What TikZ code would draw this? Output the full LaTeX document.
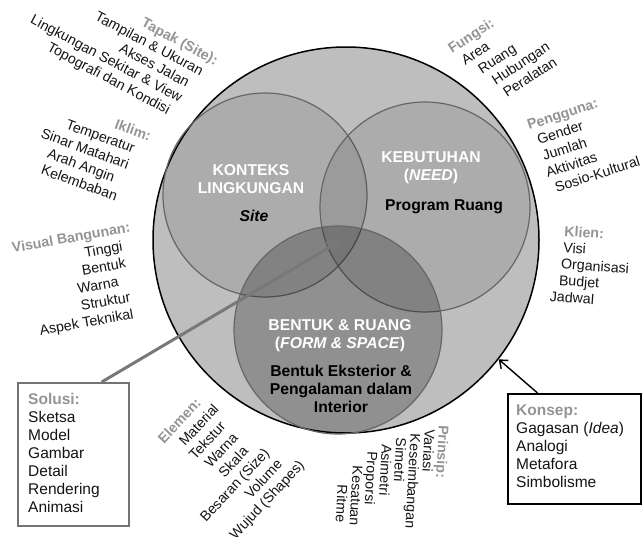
\documentclass[tikz,border=0pt]{standalone}
\usepackage{fontspec}
\setmainfont{Liberation Sans}
\usetikzlibrary{arrows.meta,calc}
\definecolor{ringfill}{gray}{0.745}
\definecolor{ringline}{gray}{0.40}
\definecolor{headgray}{gray}{0.58}
\definecolor{boxgray}{gray}{0.45}
\definecolor{arrowgray}{gray}{0.47}
\definecolor{inkblack}{gray}{0.08}
\tikzset{
  venn/.style={circle, draw=ringline, line width=1.2pt, fill=black,
    fill opacity=0.095, draw opacity=1, inner sep=0pt},
  lbl/.style={font=\fontsize{14.2}{17}\selectfont, text=inkblack, inner sep=0pt},
  hd/.style={font=\fontsize{14.2}{17}\selectfont\bfseries, text=headgray, inner sep=0pt},
  core/.style={font=\fontsize{15.7}{18}\selectfont\bfseries, align=center, inner sep=0pt, anchor=base},
  boxtext/.style={font=\fontsize{15.5}{18}\selectfont, align=left, inner sep=0pt, anchor=base west, text=inkblack},
}
\begin{document}
\begin{tikzpicture}[x=1pt, y=-1pt]
\useasboundingbox (0,0) rectangle (642,536);

% the three overlapping fields inside the design circle
\node[circle, draw=black, line width=1.5pt, fill=ringfill, minimum size=386pt, inner sep=0pt] (outer) at (346,240) {};
\node[venn, minimum size=204pt] (konteks) at (265,195) {};
\node[venn, minimum size=210pt] (kebutuhan) at (425,207) {};
\node[venn, fill opacity=0.24, minimum size=208pt] (bentuk) at (338,330) {};

% multi-line nodes sit on the baseline of their last line
\node[core, text=white] (kontekstitle) at (251,193.3) {KONTEKS\\LINGKUNGAN};
\node[core] (site) at (254,221.7) {\textit{Site}};
\node[core, text=white] (kebutuhantitle) at (431,180.5) {KEBUTUHAN\\(\textit{NEED})};
\node[core] (program) at (444,210) {Program Ruang};
\node[core, text=white] (bentuktitle) at (340,348.7) {BENTUK \& RUANG\\(\textit{FORM \& SPACE})};
\node[core] (bentukdesc) at (341,412) {Bentuk Eksterior \&\\Pengalaman dalam\\Interior};

% connectors from the two boxes
\coordinate (hub) at (342,240);
\node[draw=boxgray, line width=2.2pt, fill=white, minimum width=111pt, minimum height=143pt,
  anchor=north west, inner sep=0pt] (solusi) at (17,382) {};
\node[draw=black, line width=2pt, fill=white, minimum width=133pt, minimum height=110pt,
  anchor=north west, inner sep=0pt] (konsep) at (507,393) {};
\draw[line width=3pt, draw=arrowgray, -{Triangle[length=15pt,width=13pt]}]
  ($(solusi.north west)!0.748!(solusi.north east)$) -- (hub);
\draw[line width=1.4pt, -{Straight Barb[length=7pt,width=11pt]}]
  ($(konsep.north west)!0.226!(konsep.north east)$) -- (outer.-38);
\node[draw=boxgray, line width=2.2pt, minimum width=111pt, minimum height=143pt,
  anchor=north west, inner sep=0pt] (solusiframe) at (17,382) {};

\node[boxtext] (solusitext) at (28,512.5)
  {\textcolor{headgray}{\textbf{Solusi:}}\\Sketsa\\Model\\Gambar\\Detail\\Rendering\\Animasi};
\node[boxtext] (konseptext) at (516,487.5)
  {\textcolor{headgray}{\textbf{Konsep:}}\\Gagasan (\textit{Idea})\\Analogi\\Metafora\\Simbolisme};

% labels fanned around the circle
\begin{scope}[shift={(215,65.5)}, rotate=-28]
  \node[hd, rotate=-28, anchor=base east] (tapak0) at (0,0) {Tapak (Site):};
  \foreach \t/\o [count=\i] in {Tampilan \& Ukuran/-8, Akses Jalan/-15,
      Lingkungan Sekitar \& View/-14, Topografi dan Kondisi/-19}
    \node[lbl, rotate=-28, anchor=base east] (tapak\i) at (\o,16.5*\i) {\t};
\end{scope}

\begin{scope}[shift={(149,141)}, rotate=-20]
  \node[hd, rotate=-20, anchor=base east] (iklim0) at (0,0) {Iklim:};
  \foreach \t/\o [count=\i] in {Temperatur/-11, Sinar Matahari/-11, Arah Angin/-20, Kelembaban/-11}
    \node[lbl, rotate=-20, anchor=base east] (iklim\i) at (\o,17*\i) {\t};
\end{scope}

\begin{scope}[shift={(131,232)}, rotate=10]
  \node[hd, rotate=10, anchor=base east] (visual0) at (0,0) {Visual Bangunan:};
  \foreach \t/\o [count=\i] in {Tinggi/-11, Bentuk/-10.6, Warna/-21, Struktur/-12, Aspek Teknikal/-12}
    \node[lbl, rotate=10, anchor=base east] (visual\i) at (\o,17.2*\i) {\t};
\end{scope}

\begin{scope}[shift={(202,404)}, rotate=47]
  \node[hd, rotate=47, anchor=base east] (elemen0) at (0,0) {Elemen:};
  \foreach \t/\o [count=\i] in {Material/8, Tekstur/0, Warna/0, Skala/-3,
      Besaran (Size)/10, Volume/11, Wujud (Shapes)/25}
    \node[lbl, rotate=47, anchor=base east] (elemen\i) at (\o,16.8*\i) {\t};
\end{scope}

\begin{scope}[shift={(452,54)}, rotate=33]
  \node[hd, rotate=33, anchor=base west] (fungsi0) at (0,0) {Fungsi:};
  \foreach \t/\o [count=\i] in {Area/5, Ruang/14, Hubungan/19.5, Peralatan/22}
    \node[lbl, rotate=33, anchor=base west] (fungsi\i) at (\o,16.7*\i) {\t};
\end{scope}

\begin{scope}[shift={(529,130)}, rotate=18]
  \node[hd, rotate=18, anchor=base west] (pengguna0) at (0,0) {Pengguna:};
  \foreach \t/\o [count=\i] in {Gender/5, Jumlah/5, Aktivitas/3, Sosio-Kultural/7}
    \node[lbl, rotate=18, anchor=base west] (pengguna\i) at (\o,17*\i) {\t};
\end{scope}

\begin{scope}[shift={(564,236)}, rotate=-4]
  \node[hd, rotate=-4, anchor=base west] (klien0) at (0,0) {Klien:};
  \foreach \t/\o [count=\i] in {Visi/0, Organisasi/-1, Budjet/-2, Jadwal/-10}
    \node[lbl, rotate=-4, anchor=base west] (klien\i) at (\o,16.5*\i) {\t};
\end{scope}

\begin{scope}[shift={(439,425)}, rotate=-93]
  \node[hd, rotate=-93, anchor=base west] (prinsip0) at (0,0) {Prinsip:};
  \foreach \t/\o [count=\i] in {Variasi/5, Keseimbangan/10, Simetri/15, Asimetri/22,
      Proporsi/30, Kesatuan/45, Ritme/65}
    \node[lbl, rotate=-93, anchor=base west] (prinsip\i) at (\o,14*\i) {\t};
\end{scope}
\end{tikzpicture}
\end{document}
